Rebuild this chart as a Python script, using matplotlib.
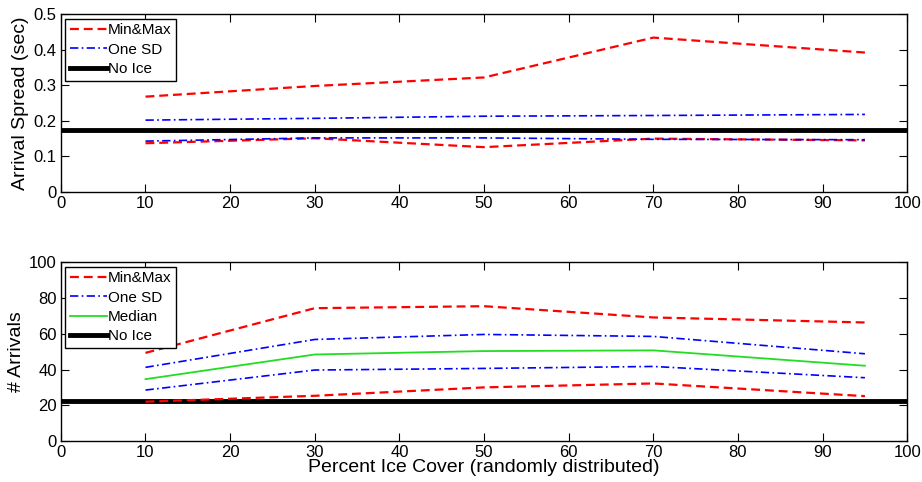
import matplotlib
matplotlib.use('Agg')
import matplotlib.pyplot as plt
from matplotlib.ticker import FuncFormatter

plt.rcParams['font.family'] = ['Liberation Sans', 'DejaVu Sans']

ice = [10, 30, 50, 70, 95]

# top panel: arrival spread (sec)
spread_max = [0.268, 0.298, 0.322, 0.434, 0.392]
spread_min = [0.137, 0.151, 0.126, 0.150, 0.145]
spread_sd_hi = [0.202, 0.207, 0.213, 0.215, 0.218]
spread_sd_lo = [0.143, 0.152, 0.152, 0.148, 0.147]
spread_noice = 0.173

# bottom panel: number of arrivals
arr_max = [49.3, 74.3, 75.4, 69.1, 66.3]
arr_min = [22.0, 25.3, 30.0, 32.2, 25.1]
arr_sd_hi = [41.2, 56.8, 59.6, 58.5, 48.8]
arr_sd_lo = [28.5, 39.7, 40.6, 41.7, 35.4]
arr_median = [34.6, 48.4, 50.3, 50.7, 42.1]
arr_noice = 22.2

fig = plt.figure(figsize=(9.22, 4.82), dpi=100)
ax1 = fig.add_axes([0.066, 0.6017, 0.918, 0.369])
ax2 = fig.add_axes([0.066, 0.085, 0.918, 0.371])

red = dict(color='red', linestyle=(0, (4, 2.2)), lw=1.6)
blue = dict(color='blue', linestyle=(0, (5, 2, 1, 2)), lw=1.2)
black = dict(color='black', lw=3.5)

ax1.plot(ice, spread_max, label='Min&Max', **red)
ax1.plot(ice, spread_sd_hi, label='One SD', **blue)
ax1.axhline(spread_noice, label='No Ice', **black)
ax1.plot(ice, spread_min, **red)
ax1.plot(ice, spread_sd_lo, **blue)
ax1.set_ylim(0, 0.5)
ax1.yaxis.set_major_formatter(FuncFormatter(lambda v, p: '0' if abs(v) < 1e-9 else f'{v:.1f}'))
ax1.set_ylabel('Arrival Spread (sec)', fontsize=14, labelpad=3)

ax2.plot(ice, arr_max, label='Min&Max', **red)
ax2.plot(ice, arr_sd_hi, label='One SD', **blue)
ax2.plot(ice, arr_median, color='#22dd22', lw=1.3, label='Median')
ax2.axhline(arr_noice, label='No Ice', **black)
ax2.plot(ice, arr_min, **red)
ax2.plot(ice, arr_sd_lo, **blue)
ax2.set_ylim(0, 100)
ax2.set_ylabel('# Arrivals', fontsize=14, labelpad=3)
ax2.set_xlabel('Percent Ice Cover (randomly distributed)', fontsize=14, labelpad=-1)

for ax in (ax1, ax2):
    ax.set_xlim(0, 100)
    ax.set_xticks(range(0, 101, 10))
    ax.tick_params(direction='in', top=True, right=True, labelsize=12, length=6, pad=3)
    for s in ax.spines.values():
        s.set_linewidth(1.0)
    leg = ax.legend(loc='upper left', fontsize=11, handlelength=2.4, handletextpad=0.1,
                    borderaxespad=0.3, borderpad=0.3, labelspacing=0.35, fancybox=False,
                    framealpha=1, edgecolor='black')
    leg.get_frame().set_linewidth(1.0)

fig.savefig('out.png', dpi=100)
